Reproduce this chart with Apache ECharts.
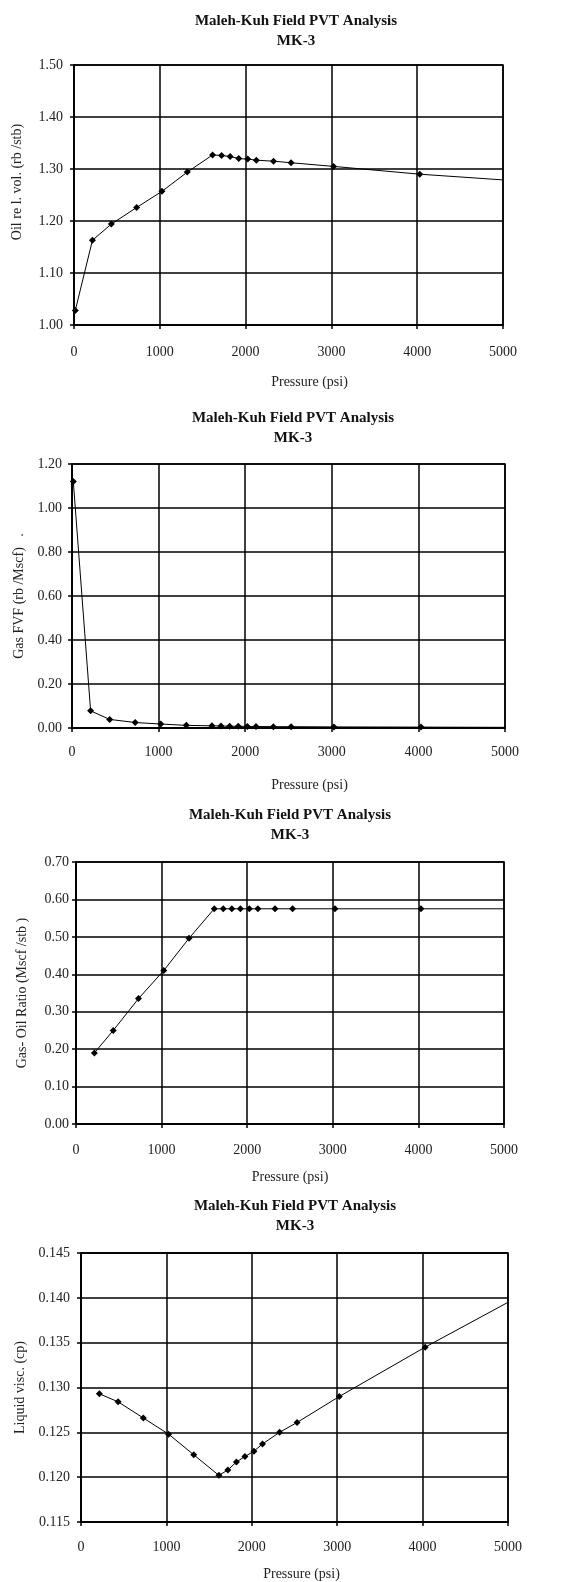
<!DOCTYPE html>
<html>
<head>
<meta charset="utf-8">
<script src="https://cdn.jsdelivr.net/npm/echarts@6/dist/echarts.min.js"></script>
<style>
html,body{margin:0;padding:0;background:#fff;}
#c{width:564px;height:1582px;}
</style>
</head>
<body>
<div id="c"></div>
<script>
// ---- data ----
const titleText = 'Maleh-Kuh Field PVT Analysis\nMK-3';
const xName = 'Pressure (psi)';
const xTicks = [0, 1000, 2000, 3000, 4000, 5000];

const pressureAll = [15, 215, 435, 730, 1025, 1320, 1615, 1720, 1820, 1920, 2025, 2125, 2325, 2530, 3025, 4030];
const pressureFrom215 = [215, 435, 730, 1025, 1320, 1615, 1720, 1820, 1920, 2025, 2125, 2325, 2530, 3025, 4030];
const endPressure = 5000;

const oilRelVol = [1.028, 1.163, 1.194, 1.226, 1.257, 1.294, 1.327, 1.326, 1.324, 1.320, 1.319, 1.317, 1.315, 1.312, 1.305, 1.290];
const oilRelVolEnd = 1.279;
const oilTicks = [1.00, 1.10, 1.20, 1.30, 1.40, 1.50];

const gasFVF = [1.12, 0.078, 0.039, 0.025, 0.018, 0.012, 0.010, 0.009, 0.008, 0.008, 0.007, 0.007, 0.006, 0.006, 0.005, 0.004];
const gasFVFEnd = 0.003;
const gasTicks = [0.00, 0.20, 0.40, 0.60, 0.80, 1.00, 1.20];

const gor = [0.19, 0.25, 0.335, 0.41, 0.496, 0.575, 0.575, 0.575, 0.575, 0.575, 0.575, 0.575, 0.575, 0.575, 0.575];
const gorEnd = 0.575;
const gorTicks = [0.00, 0.10, 0.20, 0.30, 0.40, 0.50, 0.60, 0.70];

const liqVisc = [0.1293, 0.1284, 0.1266, 0.1248, 0.1225, 0.1202, 0.1208, 0.1217, 0.1223, 0.1229, 0.1237, 0.1250, 0.1261, 0.1290, 0.1345];
const liqViscEnd = 0.1395;
const viscTicks = [0.115, 0.120, 0.125, 0.130, 0.135, 0.140, 0.145];

const yNames = ['Oil re l. vol. (rb /stb)', 'Gas FVF (rb /Mscf)   .', 'Gas- Oil Ratio (Mscf /stb )', 'Liquid visc. (cp)'];

// ---- layout / style ----
const FONT = 'Liberation Serif';
const TXT = '#222';

const panels = [
  {grid:{left:74, top:65, width:429, height:260}, titleX:291, titleTop:6,
   p:pressureAll, v:oilRelVol, end:oilRelVolEnd, ticks:oilTicks, dec:2,
   yGap:50, yPad:[0,0,0,26], xLabMargin:20, xGap:50, xPad:[0,0,0,42], yLabMargin:11},
  {grid:{left:72, top:464, width:433, height:264}, titleX:288, titleTop:402.7,
   p:pressureAll, v:gasFVF, end:gasFVFEnd, ticks:gasTicks, dec:2,
   yGap:44, yPad:[0,0,0,0], xLabMargin:17, xGap:50, xPad:[0,0,0,42], yLabMargin:10},
  {grid:{left:76, top:862, width:428, height:262}, titleX:285, titleTop:800,
   p:pressureFrom215, v:gor, end:gorEnd, ticks:gorTicks, dec:2,
   yGap:47, yPad:[0,0,0,0], xLabMargin:19, xGap:46, xPad:[0,0,0,0], yLabMargin:7},
  {grid:{left:81, top:1253, width:427, height:270}, titleX:290, titleTop:1190.7,
   p:pressureFrom215, v:liqVisc, end:liqViscEnd, ticks:viscTicks, dec:3,
   yGap:54, yPad:[0,0,0,0], xLabMargin:18, xGap:45, xPad:[0,0,0,14], yLabMargin:11}
];

const option = {
  backgroundColor: '#fff',
  animation: false,
  title: [], grid: [], xAxis: [], yAxis: [], series: []
};

panels.forEach((pn, i) => {
  option.title.push({
    text: titleText, left: pn.titleX, top: pn.titleTop, textAlign: 'center',
    textStyle: {fontFamily: FONT, fontSize: 15, fontWeight: 'bold', color: '#111', lineHeight: 20}
  });
  option.grid.push(Object.assign({show: true, borderColor: '#000', borderWidth: 1.5, backgroundColor: 'transparent'}, pn.grid));
  option.xAxis.push({
    gridIndex: i, type: 'value', min: xTicks[0], max: xTicks[xTicks.length - 1], interval: xTicks[1] - xTicks[0],
    name: xName, nameLocation: 'middle', nameGap: pn.xGap,
    nameTextStyle: {fontFamily: FONT, fontSize: 14, color: TXT, padding: pn.xPad},
    axisLine: {show: true, lineStyle: {color: '#000', width: 1.5}},
    axisTick: {show: true, length: 4, inside: false, lineStyle: {color: '#000', width: 1.5}},
    axisLabel: {fontFamily: FONT, fontSize: 14, color: TXT, margin: pn.xLabMargin,
      formatter: v => String(Math.round(v))},
    splitLine: {show: true, lineStyle: {color: '#000', width: 1.5}}
  });
  const t = pn.ticks;
  const step = t[1] - t[0];
  option.yAxis.push({
    gridIndex: i, type: 'value', min: t[0], max: t[t.length - 1], interval: step,
    name: yNames[i], nameLocation: 'middle', nameGap: pn.yGap, nameRotate: 90,
    nameTextStyle: {fontFamily: FONT, fontSize: 14, color: TXT, padding: pn.yPad},
    axisLine: {show: true, lineStyle: {color: '#000', width: 1.5}},
    axisTick: {show: true, length: 4, inside: false, lineStyle: {color: '#000', width: 1.5}},
    axisLabel: {fontFamily: FONT, fontSize: 14, color: TXT, margin: pn.yLabMargin,
      formatter: v => Number(v).toFixed(pn.dec)},
    splitLine: {show: true, lineStyle: {color: '#000', width: 1.5}}
  });
  const data = pn.p.map((p, k) => [p, pn.v[k]]);
  data.push({value: [endPressure, pn.end], symbol: 'none'});
  option.series.push({
    type: 'line', xAxisIndex: i, yAxisIndex: i, data: data,
    symbol: 'diamond', symbolSize: 7, showSymbol: true,
    itemStyle: {color: '#000'},
    lineStyle: {color: '#000', width: 1},
    silent: true, z: 5
  });
});

const chart = echarts.init(document.getElementById('c'), null, {renderer: 'canvas'});
chart.setOption(option);
</script>
</body>
</html>
